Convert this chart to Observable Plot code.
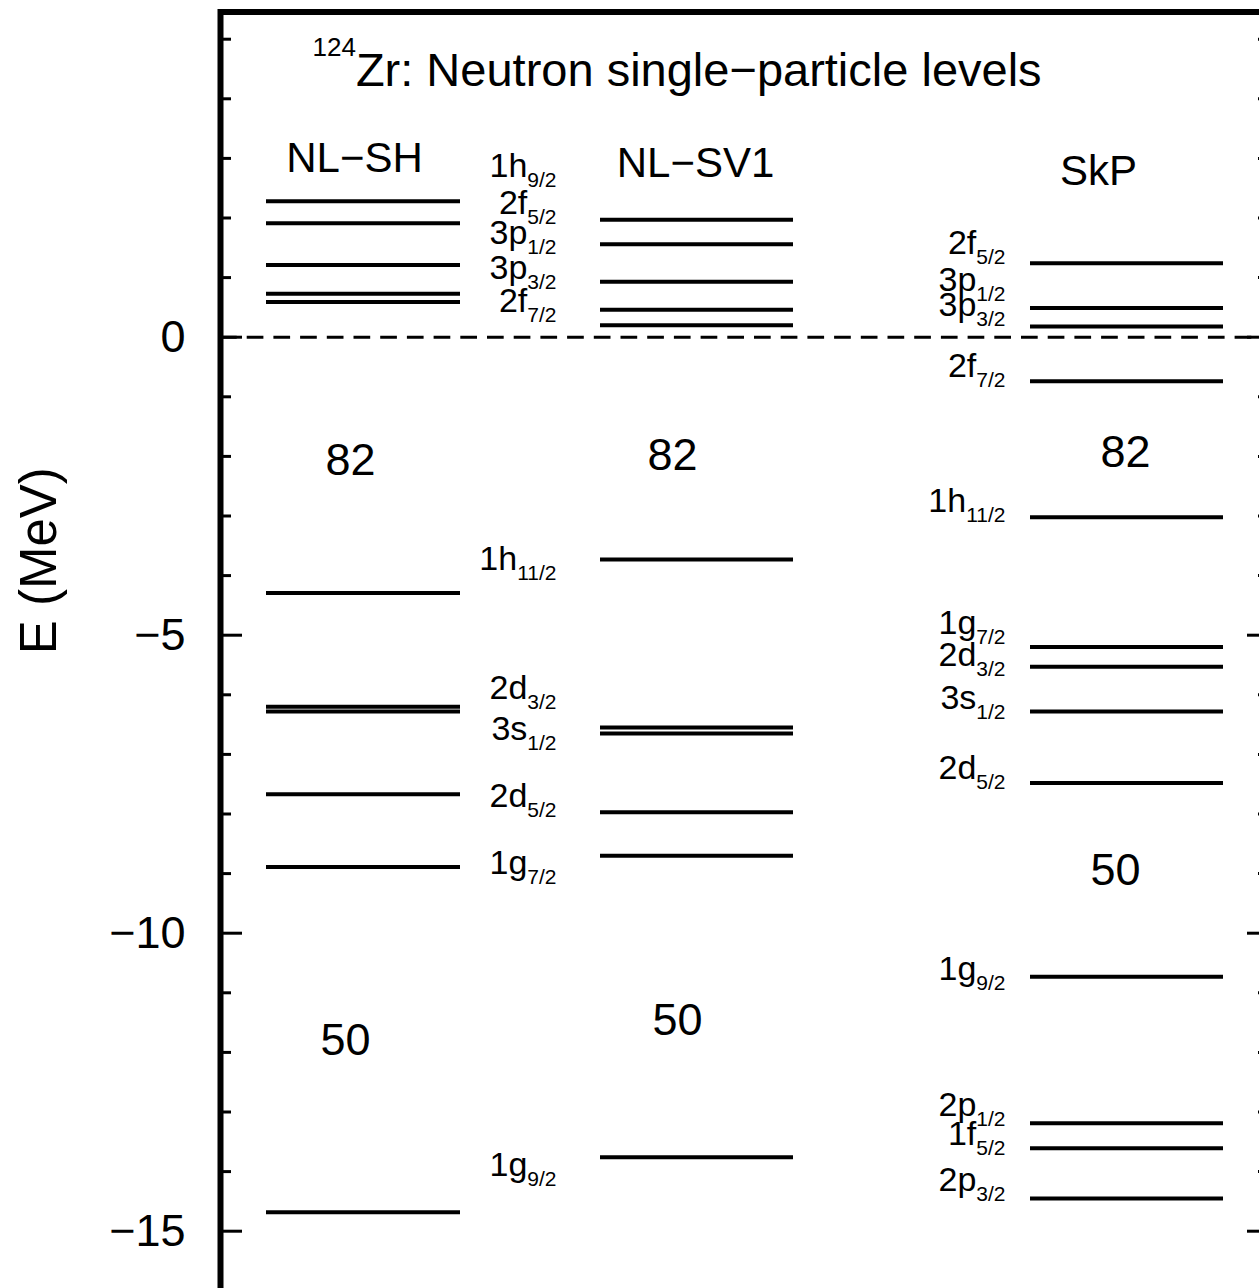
<!DOCTYPE html>
<html><head><meta charset="utf-8">
<script src="https://cdn.jsdelivr.net/npm/d3@7"></script>
<script src="https://cdn.jsdelivr.net/npm/@observablehq/plot@0.6"></script>
<style>html,body{margin:0;padding:0;overflow:hidden;background:#fff}</style>
</head><body><div id="chart"></div>
<script>
// ---------- data ----------
const titleMass = "124";
const title = "Zr: Neutron single\u2212particle levels";
const yLabel = "E (MeV)";
const models = ["NL\u2212SH", "NL\u2212SV1", "SkP"];

// orbitals of the two RMF columns (NL-SH, NL-SV1), top to bottom
const rmfOrbitals = ["1h9/2","2f5/2","3p1/2","3p3/2","2f7/2","1h11/2","2d3/2","3s1/2","2d5/2","1g7/2","1g9/2"];
const nlshE  = [2.28, 1.91, 1.21, 0.73, 0.59, -4.29, -6.20, -6.28, -7.67, -8.89, -14.68];
const nlsv1E = [1.97, 1.56, 0.93, 0.46, 0.20, -3.73, -6.55, -6.65, -7.97, -8.70, -13.76];
// SkP orbitals and energies
const skpOrbitals = ["2f5/2","3p1/2","3p3/2","2f7/2","1h11/2","1g7/2","2d3/2","3s1/2","2d5/2","1g9/2","2p1/2","1f5/2","2p3/2"];
const skpE = [1.24, 0.49, 0.18, -0.74, -3.02, -5.20, -5.53, -6.28, -7.48, -10.73, -13.19, -13.61, -14.45];

// energies at which the orbital labels sit (baseline)
const midLabelE = [2.68, 2.07, 1.57, 0.98, 0.42, -3.90, -6.07, -6.76, -7.89, -9.00, -14.07];
const skpLabelE = [1.40, 0.78, 0.36, -0.67, -2.94, -4.98, -5.51, -6.24, -7.41, -10.78, -13.06, -13.56, -14.32];

// shell gaps
const shellNumbers = ["82", "50"];
const nlshGapE  = [-2.07, -11.80];
const nlsv1GapE = [-1.99, -11.47];
const skpGapE   = [-1.94, -8.95];

const majorTicks = [0, -5, -10, -15];
const minorTicks = [5, 4, 3, 2, 1, -1, -2, -3, -4, -6, -7, -8, -9, -11, -12, -13, -14, -16];

// ---------- layout ----------
const L = {
  width: 1272, height: 1300, left: 220, top: 11.5, right: 3, bottom: 4,
  y0: 336.7, k: 59.6,
  cols: {
    "NL\u2212SH":  {x1: 266, x2: 460, head: 354, headE: 2.77, gapX: [350, 345]},
    "NL\u2212SV1": {x1: 600, x2: 793, head: 695, headE: 2.68, gapX: [672, 677]},
    "SkP":         {x1: 1030, x2: 1223, head: 1098, headE: 2.55, gapX: [1125, 1115]}
  },
  labelX: {mid: 556, skp: 1005},
  majorLen: 22, minorLen: 11
};
const font = "'Liberation Sans', Arial, Helvetica, sans-serif";
const fmtTick = d => d < 0 ? "\u2212" + (-d) : String(d);

const gapE = {[models[0]]: nlshGapE, [models[1]]: nlsv1GapE, [models[2]]: skpGapE};
const levels = [
  ...rmfOrbitals.map((o, i) => ({model: models[0], orbital: o, E: nlshE[i]})),
  ...rmfOrbitals.map((o, i) => ({model: models[1], orbital: o, E: nlsv1E[i]})),
  ...skpOrbitals.map((o, i) => ({model: models[2], orbital: o, E: skpE[i]}))
];
const labels = [
  ...rmfOrbitals.map((o, i) => ({group: "mid", orbital: o, E: midLabelE[i]})),
  ...skpOrbitals.map((o, i) => ({group: "skp", orbital: o, E: skpLabelE[i]}))
];
const gaps = [];
models.forEach(m => shellNumbers.forEach((n, i) => gaps.push({model: m, n, i, E: gapE[m][i]})));

const xR = L.width - L.right;
const topE = (L.y0 - L.top) / L.k;
const bottomE = (L.y0 - (L.height - L.bottom)) / L.k;
const chart = Plot.plot({
  width: L.width, height: L.height,
  marginLeft: L.left, marginTop: L.top, marginRight: L.right, marginBottom: L.bottom,
  style: {fontFamily: font, background: "white", color: "black", maxWidth: "none", overflow: "visible"},
  x: {domain: [L.left, xR], axis: null},
  y: {domain: [bottomE, topE], axis: null},
  marks: [
    Plot.ruleY([0], {stroke: "black", strokeWidth: 3, strokeDasharray: "16.7,10"}),
    Plot.ruleY(levels, {y: "E", x1: d => L.cols[d.model].x1, x2: d => L.cols[d.model].x2, stroke: "black", strokeWidth: 4}),
    // ticks, left and right, pointing inward
    Plot.ruleY(majorTicks, {y: d => d, x1: L.left, x2: L.left + L.majorLen, stroke: "black", strokeWidth: 3}),
    Plot.ruleY(minorTicks, {y: d => d, x1: L.left, x2: L.left + L.minorLen, stroke: "black", strokeWidth: 3}),
    Plot.ruleY(majorTicks, {y: d => d, x1: xR - L.majorLen, x2: xR, stroke: "black", strokeWidth: 3}),
    Plot.ruleY(minorTicks, {y: d => d, x1: xR - L.minorLen, x2: xR, stroke: "black", strokeWidth: 3}),
    Plot.text(majorTicks, {y: d => d, text: fmtTick, frameAnchor: "left", textAnchor: "end", dx: -35, fontSize: 45, fill: "black"}),
    Plot.text([yLabel], {frameAnchor: "left", rotate: -90, dx: -165, lineAnchor: "bottom", fontSize: 51, fill: "black"}),
    Plot.text([titleMass + "|" + title], {frameAnchor: "top-left", textAnchor: "start", lineAnchor: "bottom", dx: 92, dy: 73.5, fontSize: 47, fill: "black"}),
    Plot.text(models, {x: m => L.cols[m].head, y: m => L.cols[m].headE, text: d => d, lineAnchor: "bottom", fontSize: 42, fill: "black"}),
    Plot.text(gaps, {x: d => L.cols[d.model].gapX[d.i], y: "E", text: "n", fontSize: 45, fill: "black"}),
    Plot.text(labels, {x: d => L.labelX[d.group], y: "E", text: "orbital", textAnchor: "end", lineAnchor: "bottom", fontSize: 34, fill: "black"}),
    Plot.frame({stroke: "black", strokeWidth: 6})
  ]
});
document.getElementById("chart").appendChild(chart);

// subscripts for orbital labels, superscript for the mass number
const NS = "http://www.w3.org/2000/svg";
const orbRe = /^(\d[a-z])(\d+\/2)$/;
chart.querySelectorAll("text").forEach(el => {
  const t = el.textContent;
  let m = t.match(orbRe);
  if (m) {
    el.textContent = "";
    const a = document.createElementNS(NS, "tspan"); a.textContent = m[1]; el.appendChild(a);
    const b = document.createElementNS(NS, "tspan"); b.textContent = m[2];
    b.setAttribute("font-size", "21"); b.setAttribute("dy", "10"); el.appendChild(b);
  } else if (t.includes("|")) {
    const [sup, main] = t.split("|");
    el.textContent = "";
    const a = document.createElementNS(NS, "tspan"); a.textContent = sup;
    a.setAttribute("font-size", "26"); a.setAttribute("dy", "-30"); el.appendChild(a);
    const b = document.createElementNS(NS, "tspan"); b.textContent = main; b.setAttribute("dy", "30"); el.appendChild(b);
  }
});
</script>
</body></html>
